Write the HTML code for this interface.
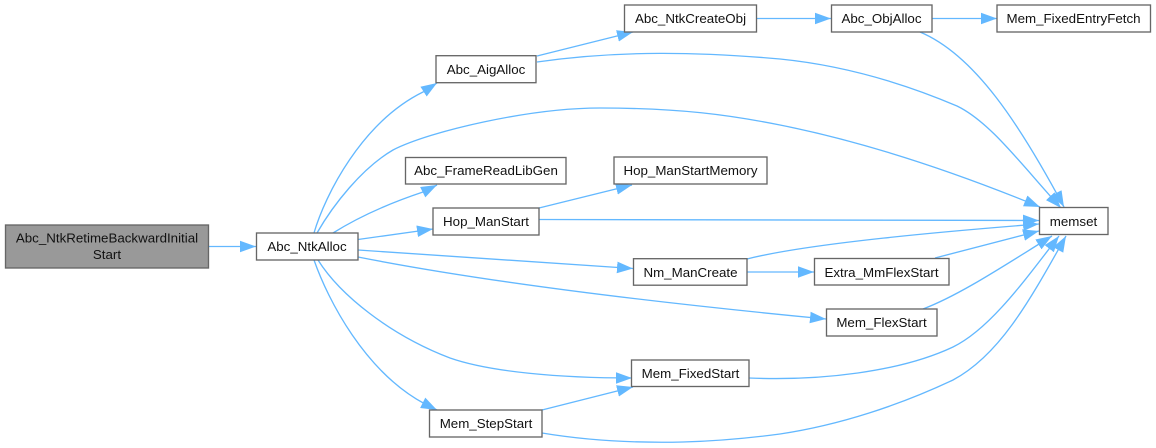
<!DOCTYPE html>
<html><head><meta charset="utf-8"><style>
html,body{margin:0;padding:0;background:#fff}
svg{display:block}
text{font-family:"Liberation Sans",Arial,sans-serif;font-size:13.33px;fill:#111;text-anchor:middle}
rect{fill:#fff;stroke:#666;stroke-width:1.33}
.e{fill:none;stroke:#63b8ff;stroke-width:1.33;marker-end:url(#h)}
</style></head><body>
<svg width="1156" height="448" viewBox="0 0 1156 448" xmlns="http://www.w3.org/2000/svg">
<defs><marker id="h" markerUnits="userSpaceOnUse" markerWidth="17" markerHeight="13" refX="16" refY="6.5" orient="auto"><polygon points="0,0.7 16,6.5 0,12.3" fill="#63b8ff"/></marker></defs>
<path class="e" d="M209,246.5 L256,246.5"/>
<path class="e" d="M314,233 C325,195 362,122 423,92 L437,83"/>
<path class="e" d="M317,233 C333,205 362,168 393,150 C430,131 530,108 600,108 C680,108 730,115 780,125 C860,141 950,170 1040,207"/>
<path class="e" d="M333,233 C360,216 390,203 423,192 L437,185"/>
<path class="e" d="M358,239.5 L433,229"/>
<path class="e" d="M358,250 L633,268.5"/>
<path class="e" d="M358,257 C500,285 680,305 826,319"/>
<path class="e" d="M318,260 C340,295 390,335 450,358 C490,372 560,378 632,378"/>
<path class="e" d="M314,260 C328,300 365,372 425,404 L437,410"/>
<path class="e" d="M537,56 L633,32"/>
<path class="e" d="M757,18.5 L831,18.5"/>
<path class="e" d="M932,18.5 L997,18.5"/>
<path class="e" d="M537,62 C620,50 700,52 780,59 C850,66 910,86 957,106 C990,122 1020,163 1061,208"/>
<path class="e" d="M920,32 C975,55 1020,125 1064,207"/>
<path class="e" d="M539,208 L632,185"/>
<path class="e" d="M539,219.5 L1039,220.5"/>
<path class="e" d="M747,259 C810,243 950,231 1039,224"/>
<path class="e" d="M747,272 L814,272"/>
<path class="e" d="M935,258 L1039,231"/>
<path class="e" d="M923,309 C960,295 1005,265 1052,236"/>
<path class="e" d="M749,378 C820,381 900,372 953,347 C990,329 1025,280 1059,236"/>
<path class="e" d="M542,433 C590,441 640,443 683,442 C720,441 750,438 780,434 C840,425 900,405 953,380 C1000,355 1030,300 1066,236"/>
<path class="e" d="M542,410 L633,387"/>

<rect x="5.5" y="225" width="203" height="43" style="fill:#999"/>
<text x="107" y="242.5">Abc_NtkRetimeBackwardInitial</text>
<text x="107" y="259">Start</text>
<rect x="256.5" y="233" width="101.5" height="27"/>
<text x="307" y="251">Abc_NtkAlloc</text>
<rect x="436" y="55.7" width="100" height="27"/>
<text x="486" y="74">Abc_AigAlloc</text>
<rect x="624.5" y="5" width="132" height="27"/>
<text x="690.5" y="23">Abc_NtkCreateObj</text>
<rect x="405.5" y="157.5" width="160.5" height="26.5"/>
<text x="486" y="175">Abc_FrameReadLibGen</text>
<rect x="614" y="157" width="153" height="27"/>
<text x="690.5" y="175">Hop_ManStartMemory</text>
<rect x="433" y="208" width="106" height="27"/>
<text x="486" y="226">Hop_ManStart</text>
<rect x="633.5" y="258.7" width="113.5" height="26.5"/>
<text x="690.5" y="277">Nm_ManCreate</text>
<rect x="631.5" y="360" width="117.5" height="26.5"/>
<text x="690.5" y="378">Mem_FixedStart</text>
<rect x="429.5" y="410" width="112.5" height="27"/>
<text x="486" y="428">Mem_StepStart</text>
<rect x="831.5" y="5" width="100.5" height="27"/>
<text x="881.5" y="23">Abc_ObjAlloc</text>
<rect x="997" y="5" width="153.5" height="27"/>
<text x="1073.5" y="23">Mem_FixedEntryFetch</text>
<rect x="1039.5" y="207.5" width="68.5" height="27"/>
<text x="1073.5" y="226">memset</text>
<rect x="814.5" y="258.5" width="134.5" height="26.5"/>
<text x="881.5" y="277">Extra_MmFlexStart</text>
<rect x="826.5" y="309" width="110.5" height="27"/>
<text x="881.5" y="327">Mem_FlexStart</text>
</svg>
</body></html>
